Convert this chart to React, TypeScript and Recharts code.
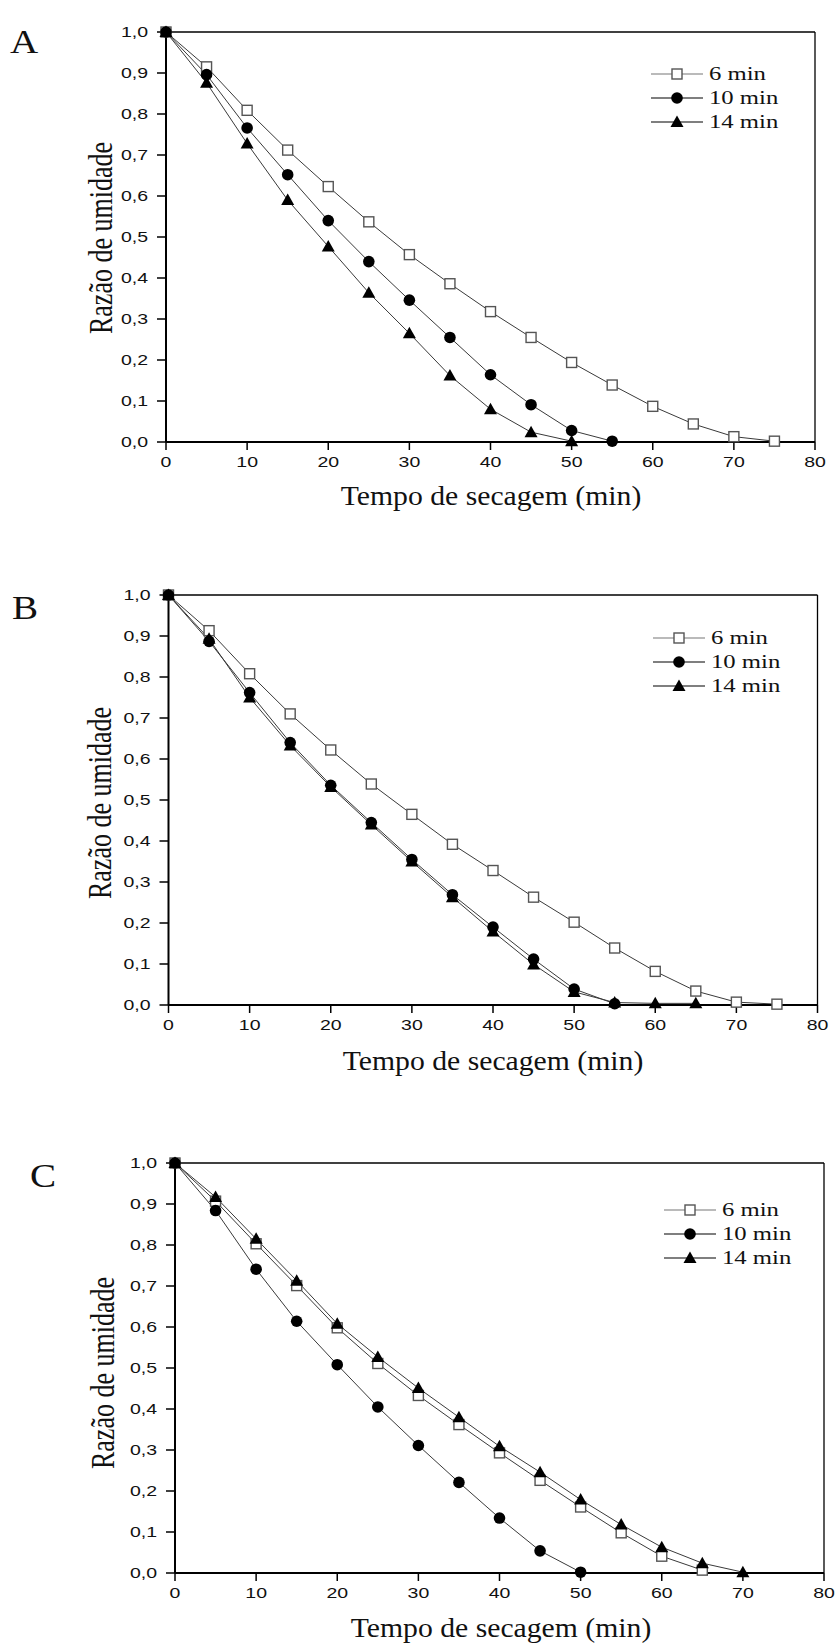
import React from "react";
import { Legend, Line, LineChart, ReferenceLine, XAxis, YAxis } from "recharts";

// drying time (min), one value every 5 min
const TIMES = [0, 5, 10, 15, 20, 25, 30, 35, 40, 45, 50, 55, 60, 65, 70, 75];
const X_TICKS = [0, 10, 20, 30, 40, 50, 60, 70, 80];
const Y_TICKS = [0, 0.1, 0.2, 0.3, 0.4, 0.5, 0.6, 0.7, 0.8, 0.9, 1.0];
const SERIES_NAMES = ["6 min", "10 min", "14 min"];
const X_TITLE = "Tempo de secagem (min)";
const Y_TITLE = "Razão de umidade";

// moisture ratio, panel A
const A_6MIN = [1.0, 0.915, 0.809, 0.712, 0.623, 0.537, 0.457, 0.386, 0.318, 0.255, 0.194, 0.139, 0.087, 0.044, 0.013, 0.002];
const A_10MIN = [1.0, 0.896, 0.766, 0.652, 0.54, 0.44, 0.346, 0.255, 0.164, 0.091, 0.028, 0.002];
const A_14MIN = [1.0, 0.876, 0.728, 0.59, 0.477, 0.364, 0.265, 0.162, 0.08, 0.024, 0.002];

// panel B
const B_6MIN = [1.0, 0.913, 0.808, 0.71, 0.622, 0.539, 0.465, 0.392, 0.328, 0.263, 0.202, 0.139, 0.082, 0.034, 0.007, 0.002];
const B_10MIN = [1.0, 0.887, 0.762, 0.64, 0.536, 0.445, 0.355, 0.269, 0.19, 0.112, 0.039, 0.003];
const B_14MIN = [1.0, 0.893, 0.75, 0.633, 0.532, 0.44, 0.35, 0.263, 0.179, 0.099, 0.032, 0.006, 0.004, 0.004];

// panel C
const C_6MIN = [1.0, 0.907, 0.803, 0.701, 0.598, 0.511, 0.433, 0.362, 0.293, 0.226, 0.161, 0.098, 0.041, 0.007];
const C_10MIN = [1.0, 0.884, 0.741, 0.614, 0.508, 0.405, 0.311, 0.221, 0.134, 0.054, 0.002];
const C_14MIN = [1.0, 0.917, 0.815, 0.713, 0.608, 0.527, 0.451, 0.38, 0.309, 0.246, 0.179, 0.118, 0.063, 0.024, 0.002];

const toPoints = (values: number[]) => values.map((v, i) => ({ t: TIMES[i], mr: v }));

const PLOT_W = 649;
const PLOT_H = 410;
const PLOT_TOP = 32;
const CHART_W = 836;
const CHART_H = 480;
const Y_AXIS_W = 60;
const X_AXIS_H = 30;
// the source figure is stretched sideways, text included
const STRETCH = 1.3;

const PANELS = [
  {
    letter: "A",
    top: 0,
    plotLeft: 166,
    series: [A_6MIN, A_10MIN, A_14MIN],
    letterPos: { x: 24, y: 42 },
    xTitle: { x: 491, y: 496 },
    yTitle: { x: 102, y: 238 },
    legend: { left: 651, top: 62 },
  },
  {
    letter: "B",
    top: 563,
    plotLeft: 168.5,
    series: [B_6MIN, B_10MIN, B_14MIN],
    letterPos: { x: 25, y: 45 },
    xTitle: { x: 493, y: 498 },
    yTitle: { x: 101, y: 240 },
    legend: { left: 653, top: 62.5 },
  },
  {
    letter: "C",
    top: 1131,
    plotLeft: 175,
    series: [C_6MIN, C_10MIN, C_14MIN],
    letterPos: { x: 43, y: 45 },
    xTitle: { x: 501, y: 497 },
    yTitle: { x: 104, y: 242 },
    legend: { left: 664, top: 67 },
  },
];

const LINE_COLOR = "#3a3a3a";
const TICK_FONT = "'Liberation Sans', Arial, sans-serif";
const SERIF = "'Liberation Serif', 'Times New Roman', serif";

function Marker({ kind, cx, cy }: { kind: number; cx: number; cy: number }) {
  if (kind === 0) {
    return <rect x={cx - 5} y={cy - 5} width={10} height={10} fill="#fff" stroke="#555" strokeWidth={1.4} />;
  }
  if (kind === 1) {
    return <circle cx={cx} cy={cy} r={5.8} fill="#000" />;
  }
  return (
    <polygon
      points={`${cx},${cy - 6.5} ${cx - 6.5},${cy + 5} ${cx + 6.5},${cy + 5}`}
      fill="#000"
    />
  );
}

const fmt = (v: number) => v.toFixed(1).replace(".", ",");

function YTick({ x, y, payload }: any) {
  return (
    <g transform={`translate(${x},${y}) scale(${STRETCH},1)`}>
      <text x={0} y={0} dy="0.36em" textAnchor="end" fontSize={15} fontFamily={TICK_FONT} fill="#111">
        {fmt(payload.value)}
      </text>
    </g>
  );
}

function XTick({ x, y, payload }: any) {
  return (
    <g transform={`translate(${x},${y}) scale(${STRETCH},1)`}>
      <text x={0} y={0} dy="0.71em" textAnchor="middle" fontSize={15} fontFamily={TICK_FONT} fill="#111">
        {payload.value}
      </text>
    </g>
  );
}

function LegendContent() {
  return (
    <div style={{ fontFamily: SERIF, fontSize: 19, color: "#111" }}>
      {SERIES_NAMES.map((name, i) => (
        <div key={name} style={{ display: "flex", alignItems: "center", height: 24 }}>
          <svg width={52} height={24} style={{ display: "block" }}>
            <line x1={0} y1={12} x2={52} y2={12} stroke={i === 0 ? "#777" : "#000"} strokeWidth={1.2} />
            <Marker kind={i} cx={26} cy={12} />
          </svg>
          <span
            style={{
              marginLeft: 6,
              lineHeight: "24px",
              whiteSpace: "nowrap",
              display: "inline-block",
              transform: `scaleX(${STRETCH})`,
              transformOrigin: "left center",
            }}
          >
            {name}
          </span>
        </div>
      ))}
    </div>
  );
}

function Panel({ panel }: { panel: (typeof PANELS)[number] }) {
  const margin = {
    top: PLOT_TOP,
    left: panel.plotLeft - Y_AXIS_W,
    right: CHART_W - panel.plotLeft - PLOT_W,
    bottom: CHART_H - PLOT_TOP - PLOT_H - X_AXIS_H,
  };
  const textBase: React.CSSProperties = {
    position: "absolute",
    whiteSpace: "nowrap",
    fontFamily: SERIF,
    color: "#111",
    lineHeight: 1,
  };

  return (
    <div style={{ position: "absolute", left: 0, top: panel.top, width: CHART_W, height: CHART_H }}>
      <LineChart width={CHART_W} height={CHART_H} margin={margin}>
        <XAxis
          dataKey="t"
          type="number"
          domain={[0, 80]}
          ticks={X_TICKS}
          allowDuplicatedCategory={false}
          height={X_AXIS_H}
          tick={<XTick />}
          tickSize={8}
          tickMargin={6}
          tickLine={{ stroke: "#000", strokeWidth: 1.5 }}
          axisLine={{ stroke: "#000", strokeWidth: 2 }}
        />
        <YAxis
          type="number"
          domain={[0, 1]}
          ticks={Y_TICKS}
          width={Y_AXIS_W}
          tick={<YTick />}
          tickSize={9}
          tickMargin={9}
          tickLine={{ stroke: "#000", strokeWidth: 1.5 }}
          axisLine={{ stroke: "#000", strokeWidth: 2 }}
        />
        <ReferenceLine y={1} stroke="#000" strokeWidth={1.3} ifOverflow="visible" />
        <ReferenceLine x={80} stroke="#000" strokeWidth={1.3} ifOverflow="visible" />
        {panel.series.map((values, i) => (
          <Line
            key={SERIES_NAMES[i]}
            name={SERIES_NAMES[i]}
            data={toPoints(values)}
            dataKey="mr"
            type="linear"
            stroke={LINE_COLOR}
            strokeWidth={1}
            isAnimationActive={false}
            activeDot={false}
            dot={(p: any) => <Marker key={`${i}-${p.index}`} kind={i} cx={p.cx} cy={p.cy} />}
          />
        ))}
        <Legend
          layout="vertical"
          align="center"
          verticalAlign="middle"
          content={() => <LegendContent />}
          wrapperStyle={{ left: panel.legend.left, top: panel.legend.top, width: 160 }}
        />
      </LineChart>
      <div
        style={{
          ...textBase,
          left: panel.letterPos.x,
          top: panel.letterPos.y,
          fontSize: 34,
          transform: "translate(-50%, -50%) scaleX(1.15)",
        }}
      >
        {panel.letter}
      </div>
      <div
        style={{
          ...textBase,
          left: panel.xTitle.x,
          top: panel.xTitle.y,
          fontSize: 27,
          transform: "translate(-50%, -50%) scaleX(1.1)",
        }}
      >
        {X_TITLE}
      </div>
      <div
        style={{
          ...textBase,
          left: panel.yTitle.x,
          top: panel.yTitle.y,
          fontSize: 26,
          transform: `translate(-50%, -50%) rotate(-90deg) scale(1, ${STRETCH})`,
        }}
      >
        {Y_TITLE}
      </div>
    </div>
  );
}

export default function App() {
  return (
    <div style={{ position: "absolute", left: 0, top: 0, width: 836, height: 1643, background: "#fff", overflow: "hidden" }}>
      {PANELS.map((p) => (
        <Panel key={p.letter} panel={p} />
      ))}
    </div>
  );
}
